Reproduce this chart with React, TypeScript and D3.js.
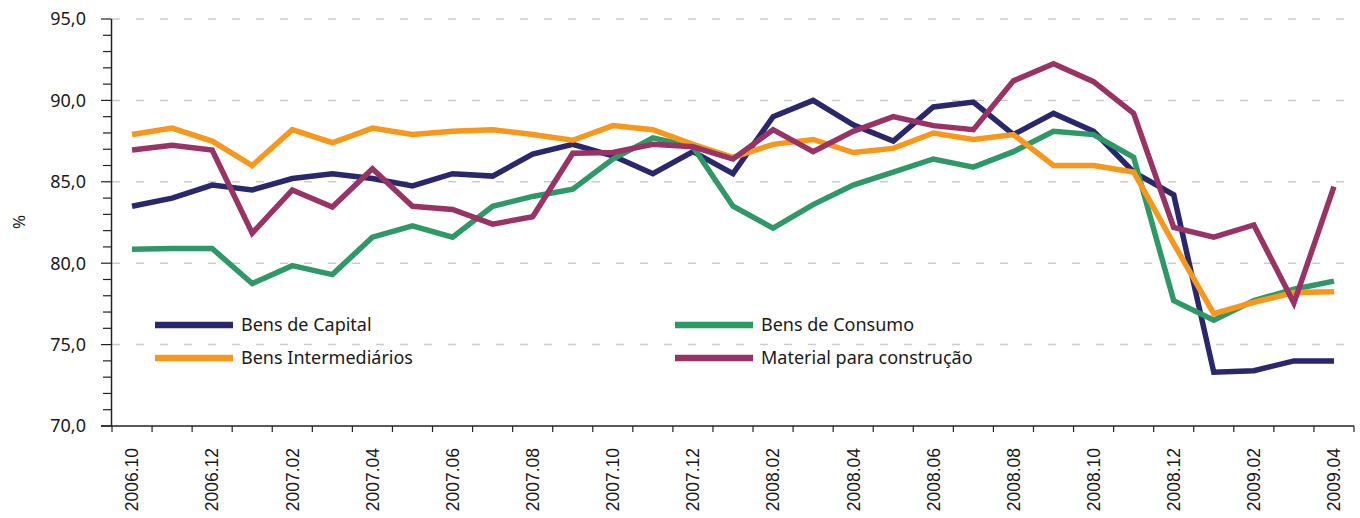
import * as React from "react";
import * as d3 from "d3";

const months = [
  "2006.10", "2006.11", "2006.12", "2007.01", "2007.02", "2007.03", "2007.04", "2007.05",
  "2007.06", "2007.07", "2007.08", "2007.09", "2007.10", "2007.11", "2007.12", "2008.01",
  "2008.02", "2008.03", "2008.04", "2008.05", "2008.06", "2008.07", "2008.08", "2008.09",
  "2008.10", "2008.11", "2008.12", "2009.01", "2009.02", "2009.03", "2009.04",
];

const bensCapital = [
  83.5, 84.0, 84.8, 84.5, 85.2, 85.5, 85.2, 84.75, 85.5, 85.35, 86.7, 87.3, 86.6, 85.5, 86.85, 85.5,
  89.0, 90.0, 88.5, 87.5, 89.6, 89.9, 87.9, 89.2, 88.1, 85.6, 84.2, 73.3, 73.4, 74.0, 74.0,
];
const bensConsumo = [
  80.85, 80.9, 80.9, 78.75, 79.85, 79.3, 81.6, 82.3, 81.6, 83.5, 84.1, 84.55, 86.4, 87.7, 87.15, 83.5,
  82.15, 83.6, 84.8, 85.6, 86.4, 85.9, 86.85, 88.1, 87.9, 86.5, 77.7, 76.5, 77.7, 78.4, 78.9,
];
const bensIntermediarios = [
  87.9, 88.3, 87.5, 86.0, 88.2, 87.4, 88.3, 87.9, 88.1, 88.2, 87.9, 87.55, 88.45, 88.2, 87.3, 86.5,
  87.3, 87.6, 86.8, 87.05, 88.0, 87.6, 87.9, 86.0, 86.0, 85.6, 81.2, 76.9, 77.6, 78.2, 78.25,
];
const materialConstrucao = [
  86.95, 87.25, 86.95, 81.85, 84.5, 83.45, 85.8, 83.5, 83.3, 82.4, 82.85, 86.75, 86.8, 87.3, 87.15, 86.4,
  88.2, 86.85, 88.1, 89.0, 88.45, 88.2, 91.2, 92.25, 91.15, 89.2, 82.2, 81.6, 82.35, 77.55, 84.7,
];

const seriesNames = ["Bens de Capital", "Bens de Consumo", "Bens Intermediários", "Material para construção"];
const seriesColors = ["#29286f", "#2e9966", "#f7981d", "#993366"];
const seriesValues = [bensCapital, bensConsumo, bensIntermediarios, materialConstrucao];

const yMajorTicks = [70, 75, 80, 85, 90, 95];
const yMinorTicks = d3.range(70, 96, 1);

const W = 1360;
const H = 518;
const left = 112;
const right = 1354;
const top = 19;
const bottom = 426;

const sansFont = "'Noto Sans', 'Open Sans', sans-serif";
const arialFont = "'Liberation Sans', Arial, sans-serif";

export default function App() {
  const x = d3.scaleBand<string>().domain(months).range([left, right]).padding(0);
  const y = d3.scaleLinear().domain([70, 95]).range([bottom, top]);
  const cx = (m: string) => (x(m) as number) + x.bandwidth() / 2;

  const line = d3
    .line<number>()
    .x((_, i) => cx(months[i]))
    .y((d) => y(d));

  const fmt = (v: number) => d3.format(".1f")(v).replace(".", ",");

  // legend layout: two columns, two rows
  const legendCols = [155, 675];
  const legendRows = [325, 358];

  return (
    <>
      <style>{`body{margin:0}`}</style>
      <svg width={W} height={H} style={{ display: "block", background: "#fff" }}>
        {/* gridlines */}
        {yMajorTicks
          .filter((t) => t !== 70)
          .map((t) => (
            <line
              key={"g" + t}
              x1={left}
              x2={right}
              y1={y(t)}
              y2={y(t)}
              stroke="#cccccc"
              strokeWidth={1.5}
              strokeDasharray="8,16"
            />
          ))}

        {/* y axis */}
        <line x1={left - 0.5} x2={left - 0.5} y1={top} y2={bottom} stroke="#222" strokeWidth={1.5} />
        {yMinorTicks.map((t) => (
          <line
            key={"yt" + t}
            x1={yMajorTicks.includes(t) ? left - 11 : left - 9}
            x2={left - 0.5}
            y1={y(t)}
            y2={y(t)}
            stroke="#222"
            strokeWidth={1.2}
          />
        ))}
        {yMajorTicks.map((t) => (
          <text
            key={"yl" + t}
            x={86}
            y={y(t)}
            dy="0.35em"
            textAnchor="end"
            fontFamily={sansFont}
            fontSize={18}
            fill="#1a1a1a"
          >
            {fmt(t)}
          </text>
        ))}
        <text
          transform={`translate(19,222) rotate(-90)`}
          textAnchor="middle"
          dy="0.35em"
          fontFamily={sansFont}
          fontSize={17}
          fill="#1a1a1a"
        >
          %
        </text>

        {/* x axis */}
        <line x1={left - 11} x2={right} y1={bottom} y2={bottom} stroke="#222" strokeWidth={1.5} />
        {months.concat(["end"]).map((m, i) => {
          const px = i < months.length ? (x(m) as number) : right;
          return (
            <line key={"xt" + i} x1={px} x2={px} y1={bottom} y2={bottom + 6} stroke="#222" strokeWidth={1.2} />
          );
        })}
        {months
          .filter((_, i) => i % 2 === 0)
          .map((m) => (
            <text
              key={"xl" + m}
              transform={`translate(${cx(m)},${bottom + 22}) rotate(-90)`}
              textAnchor="end"
              dy="0.36em"
              fontFamily={arialFont}
              fontSize={17.5}
              fill="#1a1a1a"
            >
              {m}
            </text>
          ))}

        {/* series */}
        {seriesValues.map((vals, i) => (
          <path
            key={"s" + i}
            d={line(vals) as string}
            fill="none"
            stroke={seriesColors[i]}
            strokeWidth={5.5}
            strokeLinejoin="miter"
            strokeLinecap="butt"
          />
        ))}

        {/* legend */}
        {seriesNames.map((name, i) => {
          const lx = legendCols[i % 2];
          const ly = legendRows[Math.floor(i / 2)];
          return (
            <g key={"lg" + i}>
              <line x1={lx} x2={lx + 78} y1={ly} y2={ly} stroke={seriesColors[i]} strokeWidth={6.5} />
              <text
                x={lx + 86}
                y={ly}
                dy="0.35em"
                fontFamily={sansFont}
                fontSize={18}
                fill="#1a1a1a"
              >
                {name}
              </text>
            </g>
          );
        })}
      </svg>
    </>
  );
}
